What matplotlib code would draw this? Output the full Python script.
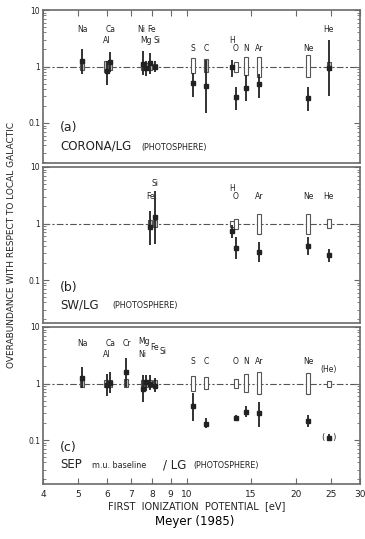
import matplotlib
matplotlib.use("Agg")
import matplotlib.pyplot as plt
import numpy as np

plt.rcParams['font.family'] = ['Liberation Sans Narrow', 'DejaVu Sans']

# first ionization potentials (eV), slightly spread where symbols overlap
fip = {'Na': 5.14, 'Al': 5.99, 'Ca': 6.11, 'Cr': 6.77, 'Ni': 7.55, 'Mg': 7.68,
       'Fe': 7.90, 'Si': 8.15, 'S': 10.36, 'C': 11.26, 'H': 13.3, 'O': 13.62,
       'N': 14.53, 'Ar': 15.76, 'Ne': 21.56, 'He': 24.59}

# panel (a) CORONA/LG : value, low, high
a_el = ['Na', 'Al', 'Ca', 'Ni', 'Mg', 'Fe', 'Si', 'S', 'C', 'H', 'O', 'N', 'Ar', 'Ne', 'He']
a_val = [1.26, 0.84, 1.22, 1.1, 0.95, 1.15, 1.0, 0.51, 0.455, 1.0, 0.29, 0.42, 0.5, 0.28, 0.96]
a_lo = [0.74, 0.47, 0.8, 0.7, 0.68, 0.75, 0.8, 0.29, 0.15, 0.65, 0.17, 0.25, 0.28, 0.16, 0.3]
a_hi = [2.05, 1.26, 1.8, 1.9, 1.25, 1.7, 1.25, 0.78, 1.3, 1.3, 0.43, 0.7, 0.75, 0.43, 2.95]
# photospheric boxes
a_box_el = ['Na', 'Al', 'Ca', 'Ni', 'Mg', 'Fe', 'Si', 'S', 'C', 'O', 'N', 'Ar', 'Ne', 'He']
a_box_lo = [0.85, 0.8, 0.85, 0.85, 0.85, 0.85, 0.9, 0.78, 0.8, 0.8, 0.7, 0.65, 0.65, 0.85]
a_box_hi = [1.15, 1.25, 1.2, 1.15, 1.15, 1.15, 1.1, 1.4, 1.35, 1.2, 1.45, 1.45, 1.57, 1.2]
a_box_fill = [1, 1, 1, 1, 1, 1, 1, 0, 1, 0, 0, 0, 0, 1]

# panel (b) SW/LG
b_el = ['Fe', 'Si', 'H', 'O', 'Ar', 'Ne', 'He']
b_val = [0.85, 1.31, 0.73, 0.37, 0.31, 0.40, 0.275]
b_lo = [0.41, 0.43, 0.55, 0.24, 0.21, 0.28, 0.21]
b_hi = [1.68, 3.8, 0.95, 0.57, 0.48, 0.57, 0.36]
b_box_el = ['Fe', 'Si', 'H', 'O', 'Ar', 'Ne', 'He']
b_box_lo = [0.85, 0.85, 0.85, 0.8, 0.64, 0.65, 0.83]
b_box_hi = [1.15, 1.15, 1.1, 1.18, 1.5, 1.5, 1.2]
b_box_fill = [1, 1, 0, 0, 0, 0, 0]

# panel (c) SEP m.u. baseline/LG
c_el = ['Na', 'Al', 'Ca', 'Cr', 'Ni', 'Mg', 'Fe', 'Si', 'S', 'C', 'O', 'N', 'Ar', 'Ne', 'He']
c_val = [1.25, 0.96, 1.03, 1.58, 0.8, 1.05, 1.0, 0.92, 0.4, 0.193, 0.247, 0.31, 0.3, 0.215, 0.11]
c_lo = [0.84, 0.6, 0.67, 0.85, 0.47, 0.75, 0.78, 0.7, 0.215, 0.16, 0.225, 0.26, 0.17, 0.17, 0.095]
c_hi = [1.94, 1.5, 1.6, 2.85, 1.4, 1.4, 1.4, 1.25, 0.68, 0.25, 0.28, 0.4, 0.48, 0.28, 0.13]
c_box_el = ['Na', 'Al', 'Ca', 'Cr', 'Ni', 'Mg', 'Fe', 'Si', 'S', 'C', 'O', 'N', 'Ar', 'Ne', 'He']
c_box_lo = [0.85, 0.85, 0.85, 0.85, 0.85, 0.85, 0.85, 0.85, 0.75, 0.8, 0.82, 0.7, 0.65, 0.65, 0.87]
c_box_hi = [1.15, 1.15, 1.15, 1.2, 1.15, 1.15, 1.15, 1.15, 1.38, 1.3, 1.2, 1.5, 1.6, 1.55, 1.12]
c_box_fill = [1, 1, 1, 1, 1, 1, 1, 1, 0, 0, 0, 0, 0, 0, 0]

# element labels: text, x (eV), y value
a_lab = [('Na', 5.14, 4.6), ('Ca', 6.15, 4.6), ('Al', 6.0, 2.85), ('Ni', 7.45, 4.6),
         ('Fe', 7.95, 4.6), ('Mg', 7.7, 2.85), ('Si', 8.25, 2.85), ('S', 10.36, 2.05),
         ('C', 11.26, 2.05), ('H', 13.3, 2.9), ('O', 13.62, 2.05), ('N', 14.53, 2.05),
         ('Ar', 15.76, 2.05), ('Ne', 21.56, 2.05), ('He', 24.59, 4.6)]
b_lab = [('Si', 8.15, 5.1), ('Fe', 7.9, 2.95), ('H', 13.3, 4.1), ('O', 13.62, 2.95),
         ('Ar', 15.76, 2.95), ('Ne', 21.56, 2.95), ('He', 24.59, 2.95)]
c_lab = [('Na', 5.14, 5.2), ('Ca', 6.15, 5.2), ('Al', 6.0, 3.3), ('Cr', 6.8, 5.2),
         ('Mg', 7.6, 5.6), ('Fe', 8.15, 4.4), ('Si', 8.55, 3.7), ('Ni', 7.5, 3.3),
         ('S', 10.36, 2.5), ('C', 11.26, 2.5), ('O', 13.62, 2.5), ('N', 14.53, 2.5),
         ('Ar', 15.76, 2.5), ('Ne', 21.56, 2.5), ('(He)', 24.59, 1.75)]

xticks = [4, 5, 6, 7, 8, 9, 10, 15, 20, 25, 30]

ink = '#222222'
frame = '#6a6a6a'
decade = 56.5  # pixels per decade in the reference

fig = plt.figure(figsize=(3.65, 5.39), dpi=100)
L, W = 43 / 365, 317 / 365
spans = [(10, 163), (167, 323), (327, 484)]
axes = [fig.add_axes([L, 1 - b / 539, W, (b - t) / 539]) for t, b in spans]

panels = [
    (a_el, a_val, a_lo, a_hi, a_box_el, a_box_lo, a_box_hi, a_box_fill, a_lab),
    (b_el, b_val, b_lo, b_hi, b_box_el, b_box_lo, b_box_hi, b_box_fill, b_lab),
    (c_el, c_val, c_lo, c_hi, c_box_el, c_box_lo, c_box_hi, c_box_fill, c_lab),
]

for i, (ax, p) in enumerate(zip(axes, panels)):
    el, val, lo, hi, bel, blo, bhi, bfill, lab = p
    t, b = spans[i]
    ax.set_xscale('log')
    ax.set_yscale('log')
    ax.set_xlim(4, 30)
    ax.set_ylim(10 ** (1 - (b - t) / decade), 10)

    ax.axhline(1, color='#555555', lw=0.8, dashes=(6, 2, 2, 2), zorder=1)

    bx = np.array([fip[e] for e in bel])
    blo = np.array(blo)
    bhi = np.array(bhi)
    fc = ['#bdbdbd' if f else 'white' for f in bfill]
    ax.bar(bx, bhi - blo, bottom=blo, width=bx * 0.026, color=fc,
           edgecolor='#555555', linewidth=0.8, zorder=2)

    x = np.array([fip[e] for e in el])
    val = np.array(val)
    ax.errorbar(x, val, yerr=[val - np.array(lo), np.array(hi) - val], fmt='s',
                ms=2.4, color=ink, ecolor=ink, elinewidth=1.3, capsize=0, zorder=3)

    for txt, xv, yv in lab:
        ax.text(xv, yv, txt, ha='center', va='center', fontsize=5.5, color=ink)

    for s in ax.spines.values():
        s.set_color(frame)
        s.set_linewidth(1.2)

    ax.set_yticks([0.1, 1, 10])
    ax.set_yticklabels(['0.1', '1', '10'])
    ax.tick_params(axis='y', which='both', direction='in', left=True, right=True,
                   labelsize=5.5, colors=frame, labelcolor=ink, pad=2)
    ax.tick_params(axis='y', which='major', length=4)
    ax.tick_params(axis='y', which='minor', length=2)

    ax.set_xticks(xticks)
    ax.xaxis.set_minor_locator(matplotlib.ticker.NullLocator())
    ax.set_xticklabels([str(v) for v in xticks])
    ax.tick_params(axis='x', direction='in', length=4, colors=frame, labelcolor=ink,
                   labelsize=6.5, top=(i == 0), bottom=(i == 2), labelbottom=(i == 2), pad=4)

# panel annotations
axes[0].text(0.054, 0.235, '(a)', transform=axes[0].transAxes, fontsize=9, color=ink, va='center')
axes[0].text(0.054, 0.085, 'CORONA/LG', transform=axes[0].transAxes, fontsize=8.5, color=ink)
axes[0].text(0.309, 0.085, '(PHOTOSPHERE)', transform=axes[0].transAxes, fontsize=5.8, color=ink)

axes[1].text(0.054, 0.23, '(b)', transform=axes[1].transAxes, fontsize=9, color=ink, va='center')
axes[1].text(0.054, 0.096, 'SW/LG', transform=axes[1].transAxes, fontsize=8.5, color=ink)
axes[1].text(0.218, 0.096, '(PHOTOSPHERE)', transform=axes[1].transAxes, fontsize=5.8, color=ink)

axes[2].text(0.054, 0.235, '(c)', transform=axes[2].transAxes, fontsize=9, color=ink, va='center')
axes[2].text(0.054, 0.10, 'SEP', transform=axes[2].transAxes, fontsize=8.5, color=ink)
axes[2].text(0.155, 0.10, 'm.u. baseline', transform=axes[2].transAxes, fontsize=5.8, color=ink)
axes[2].text(0.379, 0.10, '/ LG', transform=axes[2].transAxes, fontsize=8.5, color=ink)
axes[2].text(0.473, 0.10, '(PHOTOSPHERE)', transform=axes[2].transAxes, fontsize=5.8, color=ink)
# parentheses around the uncertain He point
axes[2].text(24.59, 0.11, '(   )', ha='center', va='center', fontsize=6, color=ink)

fig.text(12 / 365, 1 - 245 / 539, 'OVERABUNDANCE WITH RESPECT TO LOCAL GALACTIC',
         rotation=90, ha='center', va='center', fontsize=6.5, color=ink)
fig.text(197 / 365, 1 - 506 / 539, 'FIRST  IONIZATION  POTENTIAL  [eV]',
         ha='center', va='center', fontsize=7, color=ink)
fig.text(195 / 365, 1 - 521 / 539, 'Meyer (1985)', ha='center', va='center',
         fontsize=8.5, color='black', family='DejaVu Sans')

fig.savefig('out.png', dpi=100, facecolor='white')
